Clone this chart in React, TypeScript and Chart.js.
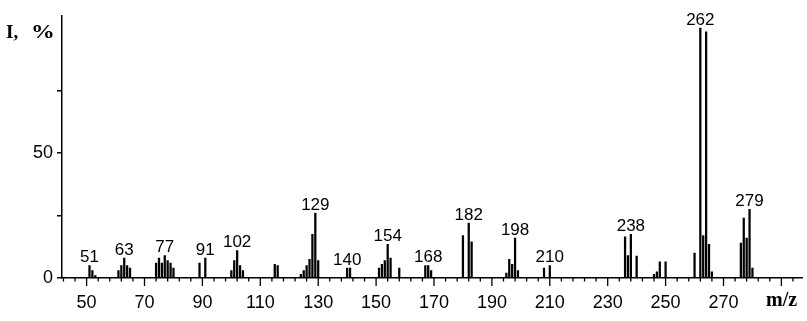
import { useEffect, useRef } from 'react';
import { Chart, registerables } from 'chart.js';
Chart.register(...registerables);

// m/z of every line in the spectrum
const mzValues = [
  51, 52, 53,
  61, 62, 63, 64, 65,
  74, 75, 76, 77, 78, 79, 80,
  89, 91,
  100, 101, 102, 103, 104,
  115, 116,
  124, 125, 126, 127, 128, 129, 130,
  140, 141,
  151, 152, 153, 154, 155, 158,
  167, 168, 169,
  180, 182, 183,
  195, 196, 197, 198, 199,
  208, 210,
  236, 237, 238, 240,
  246, 247, 248, 250,
  260, 262, 263, 264, 265, 266,
  276, 277, 278, 279, 280,
];
// relative intensity, %
const intensities = [
  5, 3, 1,
  3, 5, 8, 5, 4,
  6, 8, 6, 9, 7, 6, 4,
  6, 8,
  3, 7, 11, 5, 3,
  5.5, 5,
  1.5, 3, 5, 7.5, 17.5, 26, 7,
  4, 4,
  4, 5.5, 7, 13.5, 8, 4,
  5, 5, 3,
  17, 22, 14.5,
  2, 7.5, 5.5, 16, 3,
  4, 5,
  16.5, 9, 17.5, 8.8,
  1.5, 2.5, 6.5, 6.5,
  10, 100, 17, 98.5, 13.5, 2.5,
  14, 24, 16, 27.5, 4,
];
const labelledPeaks = [51, 63, 77, 91, 102, 129, 140, 154, 168, 182, 198, 210, 238, 262, 279];
const xTickLabels = [50, 70, 90, 110, 130, 150, 170, 190, 210, 230, 250, 270];
const xTickValues = [42, 46, 50, 54, 58, 62, 66, 70, 74, 78, 82, 86, 90, 94, 98, 102, 106, 110, 114, 118, 122, 126, 130, 134, 138, 142, 146, 150, 154, 158, 162, 166, 170, 174, 178, 182, 186, 190, 194, 198, 202, 206, 210, 214, 218, 222, 226, 230, 234, 238, 242, 246, 250, 254, 258, 262, 266, 270, 274, 278, 282, 286, 290, 294];
const xMajorValues = [50, 70, 90, 110, 130, 150, 170, 190, 210, 230, 250, 270, 290];
const yTickValues = [0, 25, 50, 75];
const yTickLabels = [0, 50];

const SANS = '"Liberation Sans", Arial, sans-serif';
const SERIF = '"Liberation Serif", "Times New Roman", serif';

export default function App() {
  const ref = useRef<HTMLCanvasElement>(null);

  useEffect(() => {
    const canvas = ref.current;
    if (!canvas) return;

    const decorations = {
      id: 'decorations',
      afterDraw(chart: any) {
        const ctx = chart.ctx;
        const xs = chart.scales.x;
        const ys = chart.scales.y;
        const bottom = chart.chartArea.bottom;
        ctx.save();
        // x tick marks (long at every 20, short otherwise)
        ctx.strokeStyle = '#000';
        ctx.lineWidth = 1.3;
        xs.ticks.forEach((t: any) => {
          const px = xs.getPixelForValue(t.value);
          const len = xMajorValues.includes(t.value) ? 8 : 3.5;
          ctx.beginPath();
          ctx.moveTo(px, bottom);
          ctx.lineTo(px, bottom + len);
          ctx.stroke();
        });
        // peak labels
        ctx.fillStyle = '#000';
        ctx.font = `17px ${SANS}`;
        ctx.textAlign = 'center';
        ctx.textBaseline = 'alphabetic';
        labelledPeaks.forEach((m) => {
          const i = mzValues.indexOf(m);
          if (i < 0) return;
          const px = xs.getPixelForValue(m);
          const py = ys.getPixelForValue(intensities[i]);
          ctx.fillText(String(m), px, py - 3.5);
        });
        // axis titles
        ctx.textAlign = 'left';
        ctx.font = `bold 19px ${SERIF}`;
        ctx.fillText('I,', 6, 38);
        ctx.save();
        ctx.translate(31, 38);
        ctx.scale(1.25, 1);
        ctx.fillText('%', 0, 0);
        ctx.restore();
        ctx.font = `bold 20px ${SERIF}`;
        ctx.fillText('m/z', 766, 306);
        ctx.restore();
      },
    };

    const chart = new Chart(canvas, {
      type: 'bar',
      data: {
        datasets: [
          {
            data: mzValues.map((m, i) => ({ x: m, y: intensities[i] })),
            backgroundColor: '#000',
            borderWidth: 0,
            barThickness: 1.6,
          },
        ],
      },
      options: {
        animation: false,
        responsive: false,
        devicePixelRatio: 1,
        layout: { padding: { top: 16, right: 2, left: 0, bottom: 0 } },
        plugins: {
          legend: { display: false },
          tooltip: { enabled: false },
        },
        scales: {
          x: {
            type: 'linear',
            min: 41.5,
            max: 297.4,
            offset: false,
            grid: { display: true, drawOnChartArea: false, drawTicks: false },
            border: { display: true, color: '#000', width: 1.5 },
            ticks: {
              autoSkip: false,
              maxRotation: 0,
              minRotation: 0,
              padding: 14,
              color: '#000',
              font: { family: SANS, size: 18 },
              callback: (v: any) => (xTickLabels.includes(Number(v)) ? String(v) : ''),
            },
            afterBuildTicks: (s: any) => {
              s.ticks = xTickValues.map((v) => ({ value: v }));
            },
            afterFit: (s: any) => {
              s.height = 43;
            },
          },
          y: {
            type: 'linear',
            min: 0,
            max: 104.8,
            grid: { drawOnChartArea: false, drawTicks: true, tickLength: 5, color: '#000', lineWidth: 1.5 },
            border: { display: true, color: '#000', width: 1.5 },
            ticks: {
              padding: 4,
              color: '#000',
              font: { family: SANS, size: 18 },
              callback: (v: any) => (yTickLabels.includes(Number(v)) ? String(v) : ''),
            },
            afterBuildTicks: (s: any) => {
              s.ticks = yTickValues.map((v) => ({ value: v }));
            },
            afterFit: (s: any) => {
              s.width = 62;
            },
          },
        },
      },
      plugins: [decorations],
    } as any);

    return () => chart.destroy();
  }, []);

  return (
    <div style={{ position: 'absolute', left: 0, top: 0, width: 807, height: 321, background: '#fff' }}>
      <canvas ref={ref} width={807} height={321} />
    </div>
  );
}
